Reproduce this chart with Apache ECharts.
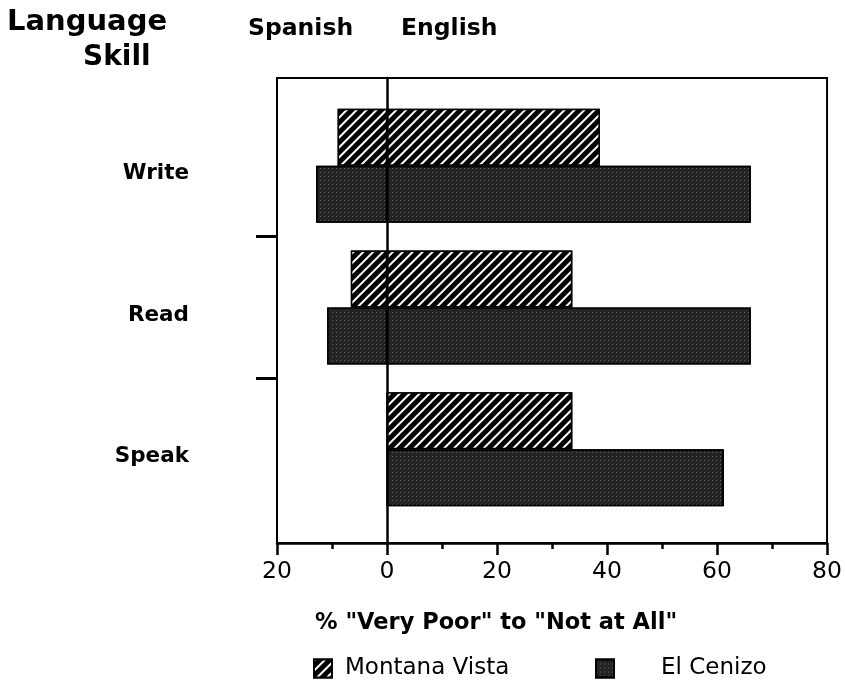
<!DOCTYPE html>
<html>
<head>
<meta charset="utf-8">
<script src="https://cdn.jsdelivr.net/npm/echarts@6/dist/echarts.min.js"></script>
<style>
html,body{margin:0;padding:0;background:#fff;}
#chart{width:845px;height:689px;}
</style>
</head>
<body>
<div id="chart"></div>
<script>
// ---- data ----
const categories = ['Write', 'Read', 'Speak'];
// % "Very Poor" to "Not at All" — Spanish (drawn to the left of 0) and English (right of 0)
const mvSpanish = [9.0, 6.6, 0];
const mvEnglish = [38.6, 33.6, 33.6];
const ecSpanish = [12.9, 10.9, 0];
const ecEnglish = [66.0, 66.0, 61.1];
const seriesNames = ['Montana Vista', 'El Cenizo'];
const xMin = -20, xMax = 80, xInterval = 20;

const FONT = 'DejaVu Sans';
const chart = echarts.init(document.getElementById('chart'), null, {renderer: 'canvas'});

const mvStyle = {
  color: '#000',
  borderColor: '#000',
  borderWidth: 1.5,
  decal: {
    symbol: 'rect', symbolSize: 1, color: '#fff',
    dashArrayX: [1, 0], dashArrayY: [2, 4.3], rotation: -Math.PI / 4
  }
};
const ecStyle = {
  color: '#242424',
  borderColor: '#000',
  borderWidth: 1.5,
  decal: {
    symbol: 'rect', symbolSize: 1, color: 'rgba(255,255,255,0.28)',
    dashArrayX: [1, 3], dashArrayY: [1, 3], rotation: 0
  }
};

const boundaries = new Array(categories.length + 1).fill('');

function barSeries(name, stack, data, style) {
  return {
    name: name, type: 'bar', xAxisIndex: 1, yAxisIndex: 1,
    stack: stack, barWidth: 57, barGap: '0%',
    itemStyle: style, emphasis: {disabled: true},
    data: data
  };
}

const option = {
  animation: false,
  backgroundColor: '#fff',
  title: [
    {text: 'Language', left: 7, top: 8, padding: 0,
     textStyle: {fontFamily: FONT, fontSize: 29, fontWeight: 'bold', color: '#000'}},
    {text: 'Skill', left: 83, top: 44, padding: 0,
     textStyle: {fontFamily: FONT, fontSize: 28, fontWeight: 'bold', color: '#000'}},
    {text: 'Spanish', left: 248, top: 17, padding: 0,
     textStyle: {fontFamily: FONT, fontSize: 23.5, fontWeight: 'bold', color: '#000'}},
    {text: 'English', left: 401, top: 17, padding: 0,
     textStyle: {fontFamily: FONT, fontSize: 23.5, fontWeight: 'bold', color: '#000'}},
    {text: '% "Very Poor" to "Not at All"', left: 315, top: 612, padding: 0,
     textStyle: {fontFamily: FONT, fontSize: 22.5, fontWeight: 'bold', color: '#000'}}
  ],
  legend: [
    {data: [seriesNames[0]], left: 313, top: 657, padding: 0, icon: 'rect',
     itemWidth: 18, itemHeight: 18, selectedMode: false,
     textStyle: {fontFamily: FONT, fontSize: 23, color: '#000', padding: [0, 0, 0, 8]}},
    {data: [seriesNames[1]], left: 595, top: 657, padding: 0, icon: 'rect',
     itemWidth: 18, itemHeight: 18, selectedMode: false,
     textStyle: {fontFamily: FONT, fontSize: 23, color: '#000', padding: [0, 0, 0, 42]}}
  ],
  grid: [
    {left: 277, right: 17, top: 78, bottom: 146, show: true,
     borderColor: '#000', borderWidth: 2, backgroundColor: 'transparent'},
    {left: 277, right: 17, top: 95, bottom: 169}
  ],
  xAxis: [
    {type: 'value', gridIndex: 0, min: xMin, max: xMax, interval: xInterval,
     axisLine: {show: true, onZero: false, lineStyle: {color: '#000', width: 2.5}},
     axisTick: {show: true, length: 12, lineStyle: {color: '#000', width: 2.5}},
     minorTick: {show: true, splitNumber: 2, length: 6, lineStyle: {color: '#000', width: 2.5}},
     splitLine: {show: false}, minorSplitLine: {show: false},
     axisLabel: {fontFamily: FONT, fontSize: 23.5, color: '#000', margin: 17,
                 formatter: v => String(Math.abs(v))}},
    {type: 'value', gridIndex: 1, min: xMin, max: xMax, interval: xInterval, show: false}
  ],
  yAxis: [
    // zero line of the frame
    {type: 'value', gridIndex: 0, min: 0, max: 1,
     axisLine: {show: true, onZero: true, lineStyle: {color: '#000', width: 2.5}},
     axisTick: {show: false}, axisLabel: {show: false}, splitLine: {show: false}},
    // categories
    {type: 'category', gridIndex: 1, inverse: true, position: 'left', data: categories,
     axisLine: {show: false, onZero: false}, axisTick: {show: false},
     axisLabel: {margin: 88, formatter: v => '{c|' + v + '}',
                 rich: {c: {fontFamily: FONT, fontSize: 21.5, fontWeight: 'bold', color: '#000',
                            padding: [15, 0, 0, 0]}}}},
    // row boundary ticks
    {type: 'category', gridIndex: 1, inverse: true, position: 'left', boundaryGap: false,
     data: boundaries,
     axisLine: {show: false, onZero: false},
     axisTick: {show: true, length: 21, lineStyle: {color: '#000', width: 3},
                interval: (i) => i > 0 && i < categories.length},
     axisLabel: {show: false}, splitLine: {show: false}}
  ],
  series: [
    barSeries(seriesNames[0], 'mv', mvSpanish.map(v => -v), mvStyle),
    barSeries(seriesNames[0], 'mv', mvEnglish, mvStyle),
    barSeries(seriesNames[1], 'ec', ecSpanish.map(v => -v), ecStyle),
    barSeries(seriesNames[1], 'ec', ecEnglish, ecStyle)
  ]
};
chart.setOption(option);
</script>
</body>
</html>
